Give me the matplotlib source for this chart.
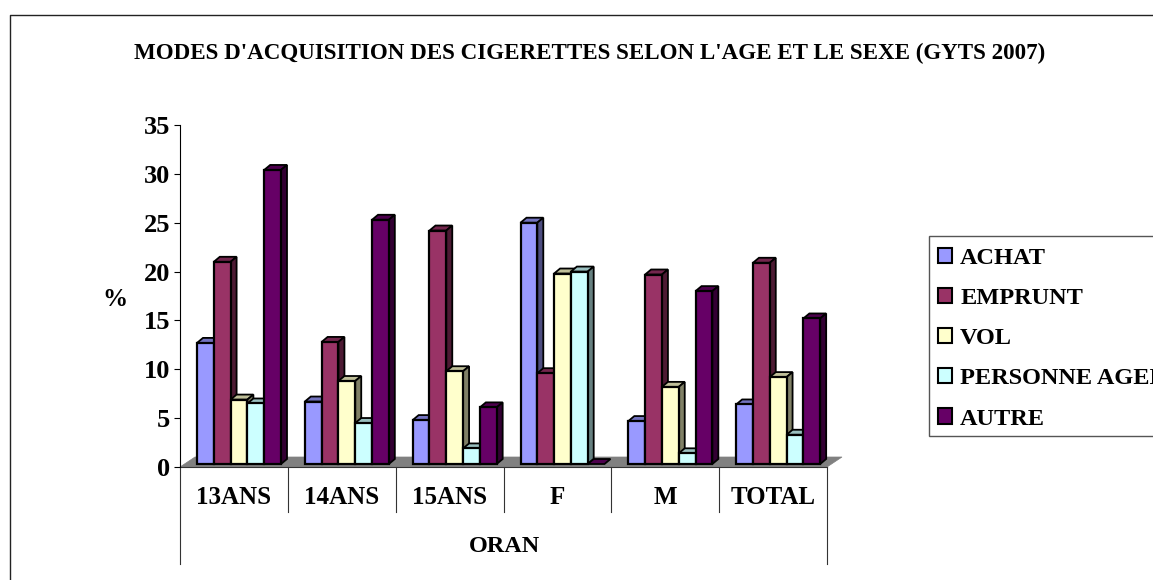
import numpy as np
import matplotlib
matplotlib.use("Agg")
import matplotlib.pyplot as plt
from matplotlib.patches import Polygon, Rectangle
from matplotlib.colors import to_rgb

plt.rcParams['font.family'] = ['Liberation Serif', 'DejaVu Serif']
plt.rcParams['font.weight'] = 'bold'

# Data
groups = ['13ANS', '14ANS', '15ANS', 'F', 'M', 'TOTAL']
achat = [12.7, 6.7, 4.8, 25.0, 4.7, 6.4]
emprunt = [21.0, 12.8, 24.2, 9.6, 19.7, 20.9]
vol = [6.9, 8.8, 9.8, 19.8, 8.2, 9.2]
personne = [6.5, 4.5, 1.9, 20.0, 1.4, 3.3]
autre = [30.4, 25.3, 6.1, 0.0, 18.0, 15.2]
series = [achat, emprunt, vol, personne, autre]
names = ['ACHAT', 'EMPRUNT', 'VOL', 'PERSONNE AGEE', 'AUTRE']
colors = ['#9999ff', '#993366', '#ffffcc', '#ccffff', '#660066']

W, H = 1153, 580
fig = plt.figure(figsize=(W / 100, H / 100), dpi=100)
ax = fig.add_axes([180 / W, 1 - 467 / H, (827 - 180) / W, (467 - 125) / H])
ax.set_xlim(0, 6)
ax.set_ylim(0, 35)
ax.patch.set_alpha(0)

# pixel sizes expressed in data units
px = 6 / (827 - 180)
py = 35 / (467 - 125)
depth_x, depth_y = 6 * px, 5 * py
base = 3 * py
bar_w = 16.8 * px
start = 17 * px


def shade(c, f):
    return tuple(v * f for v in to_rgb(c))


# floor
floor_x = [0, 6, 6 + 15 * px, 15 * px]
floor_y = [0, 0, 10 * py, 10 * py]
ax.add_patch(Polygon(list(zip(floor_x, floor_y)), closed=True, fc='#808080', ec='#808080', lw=0.5, zorder=1, clip_on=False))

for g in range(len(groups)):
    for s, vals in enumerate(series):
        x0 = g + start + s * bar_w
        x1 = x0 + bar_w
        v = vals[g]
        y0, y1 = base, max(v, base)
        z = 3 + s
        ax.add_patch(Polygon([(x0, y1), (x1, y1), (x1 + depth_x, y1 + depth_y), (x0 + depth_x, y1 + depth_y)],
                             fc=shade(colors[s], 0.75), ec='black', lw=1.3, zorder=z, clip_on=False))
        if v == 0:
            continue
        ax.add_patch(Polygon([(x1, y0), (x1 + depth_x, y0 + depth_y), (x1 + depth_x, y1 + depth_y), (x1, y1)],
                             fc=shade(colors[s], 0.5), ec='black', lw=1.3, zorder=z, clip_on=False))
        ax.add_patch(Rectangle((x0, y0), bar_w, y1 - y0, fc=colors[s], ec='black', lw=1.6, zorder=z + 0.5, clip_on=False))

# axes
for side in ['top', 'right', 'bottom']:
    ax.spines[side].set_visible(False)
ax.spines['left'].set_linewidth(0.8)
ax.set_yticks(range(0, 36, 5))
ax.tick_params(axis='y', labelsize=19, length=4, width=0.8, pad=3)
ax.set_ylabel('%', fontsize=18, fontweight='bold', rotation=0)
ax.yaxis.set_label_coords(-0.1, 0.455)
ax.set_xticks([])

# two level category axis
trans = ax.get_xaxis_transform()
ax.plot([0, 6], [0, 0], color='#333333', lw=0.8, clip_on=False, zorder=2)
for g in range(7):
    low = -97 / (467 - 125) if g in (0, 6) else -45 / (467 - 125)
    ax.plot([g, g], [0, low], color='#333333', lw=0.8, transform=trans, clip_on=False)
for g, name in enumerate(groups):
    ax.text(g + 0.5, -30 / (467 - 125), name, transform=trans, ha='center', va='center', fontsize=18, fontweight='bold')
ax.text(3.01, -80 / (467 - 125), 'ORAN', transform=trans, ha='center', va='center', fontsize=17.5, fontweight='bold')

# title
fig.text(589.5 / W, 1 - 53 / H, "MODES D'ACQUISITION DES CIGERETTES SELON L'AGE ET LE SEXE (GYTS 2007)",
         ha='center', va='center', fontsize=16.6, fontweight='bold')

# legend, the box runs off the right edge of the picture
fig.add_artist(Rectangle((929 / W, 1 - 436 / H), 240 / W, 200 / H, transform=fig.transFigure,
                         fc='white', ec='#555555', lw=1))
handles = [Rectangle((0, 0), 1, 1, fc=c, ec='black', lw=1.5) for c in colors]
leg = fig.legend(handles, names, loc='upper left', bbox_to_anchor=(938 / W, 1 - 248 / H),
                 handlelength=0.58, handleheight=0.58, handletextpad=0.33, labelspacing=0.78,
                 borderpad=0, borderaxespad=0, frameon=False,
                 prop={'size': 17.5, 'weight': 'bold'})

# outer chart frame, runs off the right and bottom edge of the picture
fig.add_artist(plt.Line2D([10 / W, 10 / W, 1], [0, 1 - 15 / H, 1 - 15 / H], color='#222222', lw=1))

fig.savefig('out.png', dpi=100)
